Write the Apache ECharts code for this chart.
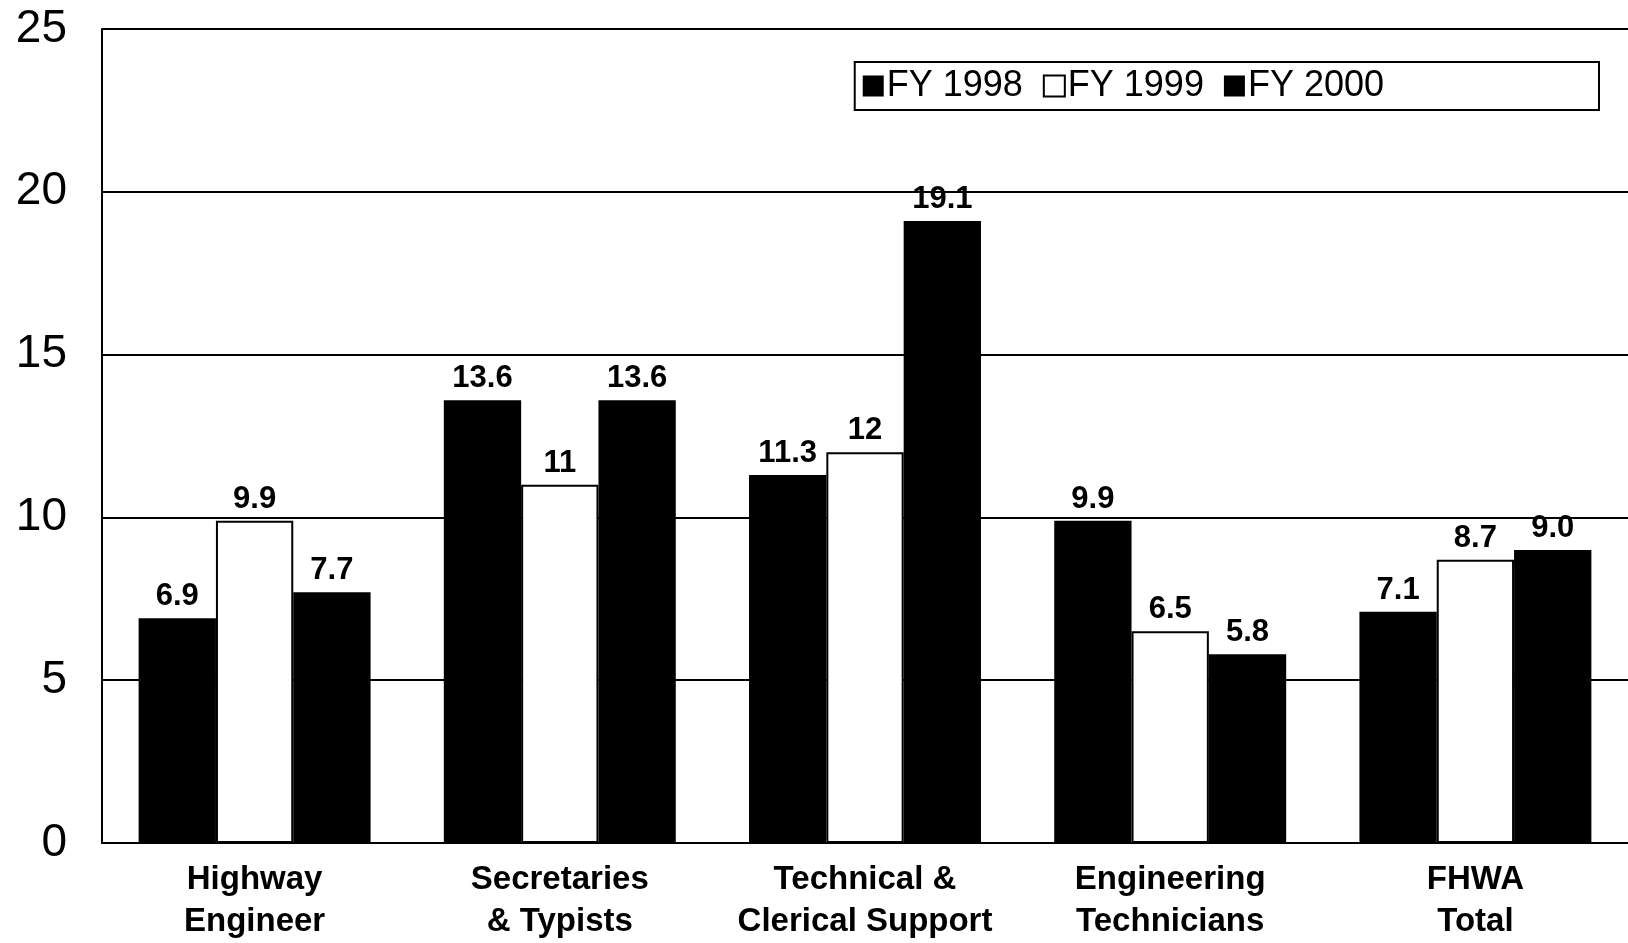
<!DOCTYPE html>
<html>
<head>
<meta charset="utf-8">
<script src="https://cdn.jsdelivr.net/npm/echarts@6/dist/echarts.min.js"></script>
<style>
  html, body { margin: 0; padding: 0; background: #fff; }
  #chart { width: 1628px; height: 943px; }
</style>
</head>
<body>
<div id="chart"></div>
<script>
const categories = ['Highway\nEngineer', 'Secretaries\n& Typists', 'Technical &\nClerical Support', 'Engineering\nTechnicians', 'FHWA\nTotal'];
const fy1998 = [6.9, 13.6, 11.3, 9.9, 7.1];
const fy1999 = [9.9, 11, 12, 6.5, 8.7];
const fy2000 = [7.7, 13.6, 19.1, 5.8, 9.0];
const yTicks = [0, 5, 10, 15, 20, 25];

const chart = echarts.init(document.getElementById('chart'));

// label style shared by all bars
const valueLabel = fixed => ({
  show: true,
  position: 'top',
  distance: 6,
  color: '#000',
  fontFamily: 'Liberation Sans, Arial, sans-serif',
  fontWeight: 'bold',
  fontSize: 31,
  formatter: p => fixed ? p.value.toFixed(1) : String(p.value)
});

const option = {
  animation: false,
  backgroundColor: '#fff',
  textStyle: { fontFamily: 'Liberation Sans, Arial, sans-serif' },
  grid: { left: 102, right: 0, top: 29, bottom: 97 },
  legend: {
    right: 29,
    top: 62,
    itemWidth: 21,
    itemHeight: 21,
    itemGap: 20,
    padding: [6, 215, 6, 8],
    borderColor: '#000',
    borderWidth: 2,
    backgroundColor: '#fff',
    textStyle: { color: '#000', fontSize: 36, padding: [0, 0, 0, -2] },
    data: [
      { name: 'FY 1998', icon: 'rect' },
      { name: 'FY 1999', icon: 'rect' },
      { name: 'FY 2000', icon: 'rect' }
    ]
  },
  xAxis: {
    type: 'category',
    data: categories,
    axisLine: { lineStyle: { color: '#000', width: 2 } },
    axisTick: { show: false },
    axisLabel: {
      interval: 0,
      color: '#000',
      fontFamily: 'Liberation Sans Narrow, Arial Narrow, Liberation Sans, sans-serif',
      fontWeight: 'bold',
      fontSize: 33,
      lineHeight: 42,
      margin: 16
    }
  },
  yAxis: {
    type: 'value',
    min: yTicks[0],
    max: yTicks[yTicks.length - 1],
    interval: 5,
    axisLine: { show: true, lineStyle: { color: '#000', width: 2 } },
    axisTick: { show: false },
    splitLine: { lineStyle: { color: '#000', width: 2 } },
    axisLabel: { color: '#000', fontSize: 46, margin: 35 }
  },
  series: [
    {
      name: 'FY 1998', type: 'bar', data: fy1998,
      barGap: '0%', barCategoryGap: '24%',
      itemStyle: { color: '#000' },
      label: valueLabel(true)
    },
    {
      name: 'FY 1999', type: 'bar', data: fy1999,
      itemStyle: { color: '#fff', borderColor: '#000', borderWidth: 2 },
      label: valueLabel(false)
    },
    {
      name: 'FY 2000', type: 'bar', data: fy2000,
      itemStyle: { color: '#000' },
      label: valueLabel(true)
    }
  ]
};

chart.setOption(option);
</script>
</body>
</html>
